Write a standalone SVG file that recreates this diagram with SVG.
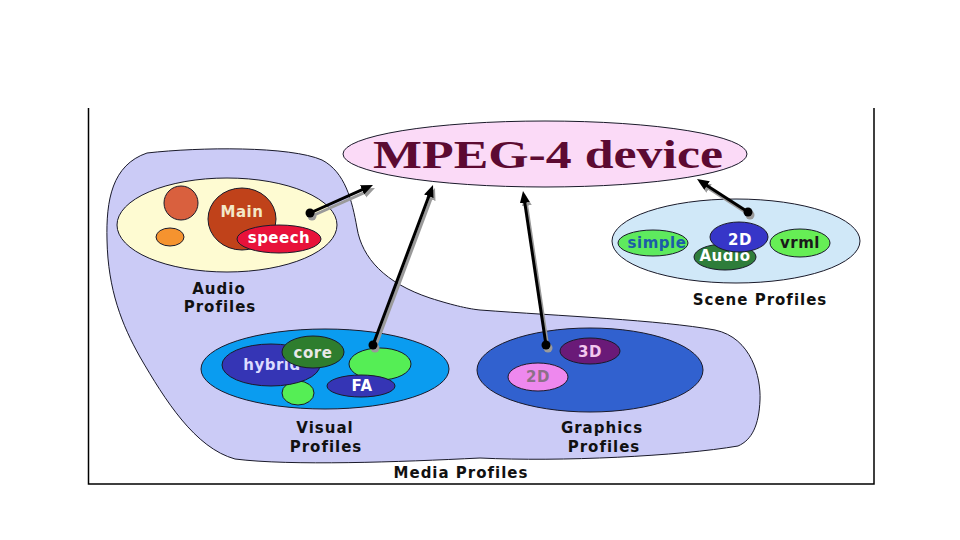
<svg xmlns="http://www.w3.org/2000/svg" width="960" height="540" viewBox="0 0 960 540">
<defs>
<style>
.lbl{font-family:"DejaVu Sans","Liberation Sans",sans-serif;font-weight:bold;font-size:15px;letter-spacing:1px;text-anchor:middle;fill:#111}
.in{font-family:"DejaVu Sans","Liberation Sans",sans-serif;font-weight:bold;font-size:15px;letter-spacing:0.5px;text-anchor:middle}
.ol{stroke:#1a1a2a;stroke-width:1}
.arr{stroke:#000;stroke-width:3;fill:none;marker-end:url(#ah)}
.sh{stroke:#9a9a9a;stroke-width:3;fill:none;marker-end:url(#ahs)}
</style>
<marker id="ah" markerUnits="userSpaceOnUse" markerWidth="14" markerHeight="12" refX="4" refY="5" orient="auto"><path d="M0,0 L12,5 L0,10 z" fill="#000"/></marker>
<marker id="ahs" markerUnits="userSpaceOnUse" markerWidth="14" markerHeight="12" refX="4" refY="5" orient="auto"><path d="M0,0 L12,5 L0,10 z" fill="#9a9a9a"/></marker>
</defs>
<rect width="960" height="540" fill="#fff"/>
<g id="frame" fill="none" stroke="#000" stroke-width="1.5">
<path d="M88.5,108 V484 H874 V108"/>
</g>
<g id="media-profiles">
<path class="ol" fill="#cbcbf6" d="M147,153 C200,147 290,146 322,160 C345,172 352,200 357,228 C362,258 385,283 430,298 C455,306 470,309 480,310 C560,316 660,320 715,330 C752,338 761,378 760,400 C759,425 752,440 738,446 C680,456 560,462 480,458 C400,462 290,466 235,459 C195,448 165,400 140,357 C122,325 108,290 107,240 C106,200 112,165 147,153 Z"/>
<text class="lbl" x="461" y="478">Media Profiles</text>
</g>
<g id="mpeg4-device">
<ellipse class="ol" cx="545" cy="154" rx="202" ry="33" fill="#fbdaf7"/>
<text x="548" y="168" font-family="'Liberation Serif','DejaVu Serif',serif" font-weight="bold" font-size="41" fill="#5c0a32" text-anchor="middle" textLength="350" lengthAdjust="spacingAndGlyphs">MPEG-4 device</text>
</g>
<g id="audio-profiles">
<ellipse class="ol" cx="227" cy="225" rx="110" ry="47" fill="#fefbd2"/>
<circle class="ol" cx="181" cy="203" r="17" fill="#d9603e" stroke-width="0.5"/>
<ellipse class="ol" cx="170" cy="237" rx="14" ry="9" fill="#f5932f" stroke-width="0.5"/>
<ellipse class="ol" cx="242" cy="219" rx="34" ry="31" fill="#c0421a"/>
<text class="in" x="242" y="217" fill="#f3e8c8">Main</text>
<ellipse class="ol" cx="279" cy="239" rx="42" ry="14" fill="#e8123a" stroke-width="0.5"/>
<text class="in" x="279" y="243" fill="#fff">speech</text>
<text class="lbl" x="219" y="294">Audio</text>
<text class="lbl" x="220" y="312">Profiles</text>
</g>
<g id="scene-profiles">
<ellipse class="ol" cx="736" cy="241" rx="124" ry="42" fill="#d0e8f8"/>
<ellipse class="ol" cx="653" cy="243" rx="35" ry="13" fill="#5eea5e"/>
<text class="in" x="657" y="248" fill="#1b5ca8">simple</text>
<ellipse class="ol" cx="725" cy="257" rx="31" ry="13" fill="#2e7d3a"/>
<text class="in" x="725" y="261" fill="#fff">Audio</text>
<ellipse class="ol" cx="739" cy="237" rx="29" ry="15" fill="#3636c8"/>
<text class="in" x="740" y="245" fill="#fff">2D</text>
<ellipse class="ol" cx="800" cy="243" rx="30" ry="14" fill="#66ee55"/>
<text class="in" x="800" y="248" fill="#1a1a1a">vrml</text>
<text class="lbl" x="760" y="305">Scene Profiles</text>
</g>
<g id="visual-profiles">
<ellipse class="ol" cx="325" cy="369" rx="124" ry="40" fill="#0a9cf0"/>
<ellipse class="ol" cx="298" cy="393" rx="16" ry="12" fill="#55ee55"/>
<ellipse class="ol" cx="271" cy="365" rx="49" ry="21" fill="#3535b5"/>
<text class="in" x="272" y="370" fill="#dcdcff">hybrid</text>
<ellipse class="ol" cx="313" cy="352" rx="31" ry="16" fill="#2e7d2e"/>
<text class="in" x="313" y="358" fill="#e8e8e8">core</text>
<ellipse class="ol" cx="380" cy="364" rx="31" ry="16" fill="#55ee55"/>
<ellipse class="ol" cx="361" cy="386" rx="34" ry="11" fill="#3535b5"/>
<text class="in" x="362" y="391" fill="#fff">FA</text>
<text class="lbl" x="325" y="433">Visual</text>
<text class="lbl" x="326" y="452">Profiles</text>
</g>
<g id="graphics-profiles">
<ellipse class="ol" cx="590" cy="370" rx="113" ry="42" fill="#3161cf"/>
<ellipse class="ol" cx="590" cy="351" rx="30" ry="13" fill="#6a1a78"/>
<text class="in" x="590" y="357" fill="#f2c8ee">3D</text>
<ellipse class="ol" cx="538" cy="377" rx="30" ry="14" fill="#ee88ee"/>
<text class="in" x="538" y="382" fill="#8c7088">2D</text>
<text class="lbl" x="602" y="433">Graphics</text>
<text class="lbl" x="604" y="452">Profiles</text>
</g>
<g id="connectors">
<line class="sh" x1="312" y1="216" x2="367.7" y2="191.2"/>
<line class="sh" x1="375" y1="348" x2="432.2" y2="195.5"/>
<line class="sh" x1="548" y1="348" x2="526.2" y2="201.9"/>
<line class="sh" x1="750" y1="215" x2="705.7" y2="186.4"/>
<circle cx="312" cy="216" r="4.5" fill="#9a9a9a"/>
<circle cx="375" cy="348" r="4.5" fill="#9a9a9a"/>
<circle cx="548" cy="348" r="4.5" fill="#9a9a9a"/>
<circle cx="750" cy="215" r="4.5" fill="#9a9a9a"/>
<line class="arr" x1="310" y1="213" x2="365.7" y2="188.2"/>
<line class="arr" x1="373" y1="345" x2="430.2" y2="192.5"/>
<line class="arr" x1="546" y1="345" x2="524.2" y2="198.9"/>
<line class="arr" x1="748" y1="212" x2="703.7" y2="183.4"/>
<circle cx="310" cy="213" r="4.5" fill="#000"/>
<circle cx="373" cy="345" r="4.5" fill="#000"/>
<circle cx="546" cy="345" r="4.5" fill="#000"/>
<circle cx="748" cy="212" r="4.5" fill="#000"/>
</g>
</svg>
